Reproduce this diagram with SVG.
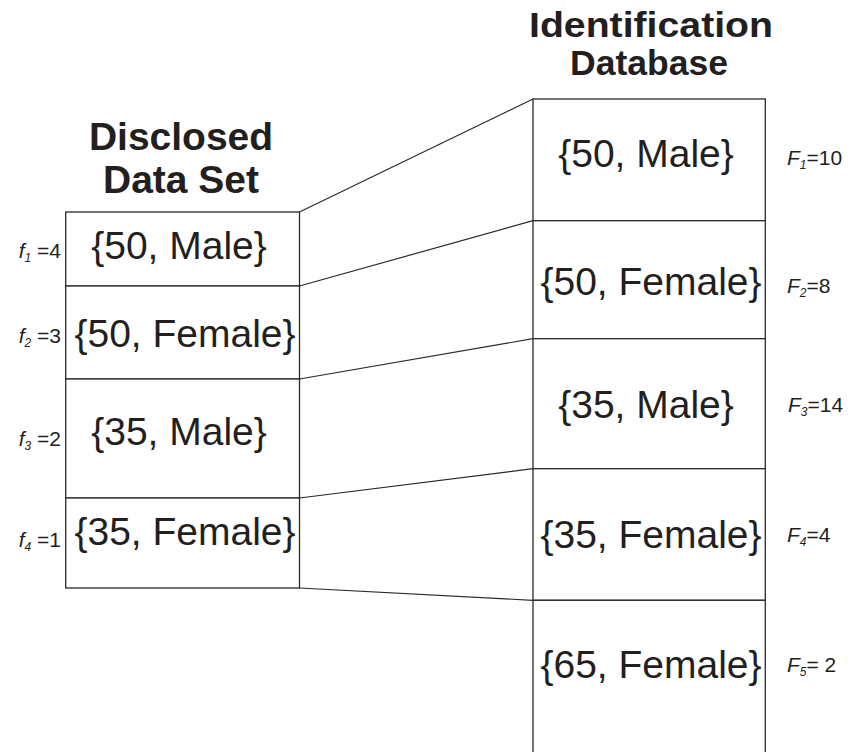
<svg xmlns="http://www.w3.org/2000/svg" width="862" height="752" viewBox="0 0 862 752">
<style>
.cell{fill:#fff;stroke:#2a2a2a;stroke-width:1.3}
.title{font-family:"Liberation Sans",Arial,sans-serif;font-weight:bold;font-size:39px;fill:#231f20;text-anchor:middle}
.title2{font-family:"Liberation Sans",Arial,sans-serif;font-weight:bold;font-size:35px;fill:#231f20;text-anchor:middle}
.val{font-family:"Liberation Sans",Arial,sans-serif;font-size:39px;fill:#231f20;text-anchor:middle}
.lbl{font-family:"Liberation Sans",Arial,sans-serif;font-size:21px;fill:#231f20}
.it{font-style:italic}
.sub{font-style:italic;font-size:12px}
.conn{stroke:#2a2a2a;stroke-width:1.2;fill:none}
</style>
<rect width="862" height="752" fill="#fff"/>
<g id="title-disclosed">
<text class="title" x="181" y="150">Disclosed</text>
<text class="title" x="181" y="193">Data Set</text>
</g>
<g id="title-identification">
<text class="title2" x="651" y="37" textLength="244" lengthAdjust="spacingAndGlyphs">Identification</text>
<text class="title2" x="649" y="75" textLength="158" lengthAdjust="spacingAndGlyphs">Database</text>
</g>
<g id="connectors">
<line class="conn" x1="299.5" y1="212" x2="533" y2="99"/>
<line class="conn" x1="299.5" y1="286" x2="533" y2="220.7"/>
<line class="conn" x1="299.5" y1="379" x2="533" y2="338.7"/>
<line class="conn" x1="299.5" y1="498" x2="533" y2="468.7"/>
<line class="conn" x1="299.5" y1="588" x2="533" y2="600.3"/>
</g>
<g id="d1">
<rect class="cell" x="65.7" y="212" width="233.8" height="74"/>
<text class="val" x="179" y="259">{50, Male}</text>
<text class="lbl" x="61" y="258" text-anchor="end"><tspan class="it">f</tspan><tspan class="sub" dy="4">1</tspan><tspan dy="-4"> =4</tspan></text>
</g>
<g id="d2">
<rect class="cell" x="65.7" y="286" width="233.8" height="93"/>
<text class="val" x="185" y="347">{50, Female}</text>
<text class="lbl" x="61" y="343" text-anchor="end"><tspan class="it">f</tspan><tspan class="sub" dy="4">2</tspan><tspan dy="-4"> =3</tspan></text>
</g>
<g id="d3">
<rect class="cell" x="65.7" y="379" width="233.8" height="119"/>
<text class="val" x="179" y="445">{35, Male}</text>
<text class="lbl" x="61" y="446" text-anchor="end"><tspan class="it">f</tspan><tspan class="sub" dy="4">3</tspan><tspan dy="-4"> =2</tspan></text>
</g>
<g id="d4">
<rect class="cell" x="65.7" y="498" width="233.8" height="90"/>
<text class="val" x="185" y="545">{35, Female}</text>
<text class="lbl" x="61" y="547" text-anchor="end"><tspan class="it">f</tspan><tspan class="sub" dy="4">4</tspan><tspan dy="-4"> =1</tspan></text>
</g>
<g id="i1">
<rect class="cell" x="533" y="99" width="232.3" height="121.7"/>
<text class="val" x="646" y="167">{50, Male}</text>
<text class="lbl" x="787" y="165"><tspan class="it">F</tspan><tspan class="sub" dy="4">1</tspan><tspan dy="-4">=10</tspan></text>
</g>
<g id="i2">
<rect class="cell" x="533" y="220.7" width="232.3" height="118"/>
<text class="val" x="651" y="295">{50, Female}</text>
<text class="lbl" x="787" y="293"><tspan class="it">F</tspan><tspan class="sub" dy="4">2</tspan><tspan dy="-4">=8</tspan></text>
</g>
<g id="i3">
<rect class="cell" x="533" y="338.7" width="232.3" height="130"/>
<text class="val" x="646" y="418">{35, Male}</text>
<text class="lbl" x="788" y="412"><tspan class="it">F</tspan><tspan class="sub" dy="4">3</tspan><tspan dy="-4">=14</tspan></text>
</g>
<g id="i4">
<rect class="cell" x="533" y="468.7" width="232.3" height="131.6"/>
<text class="val" x="651" y="548">{35, Female}</text>
<text class="lbl" x="787" y="542"><tspan class="it">F</tspan><tspan class="sub" dy="4">4</tspan><tspan dy="-4">=4</tspan></text>
</g>
<g id="i5">
<rect class="cell" x="533" y="600.3" width="232.3" height="170"/>
<text class="val" x="651" y="678">{65, Female}</text>
<text class="lbl" x="787" y="672"><tspan class="it">F</tspan><tspan class="sub" dy="4">5</tspan><tspan dy="-4">= 2</tspan></text>
</g>
</svg>
